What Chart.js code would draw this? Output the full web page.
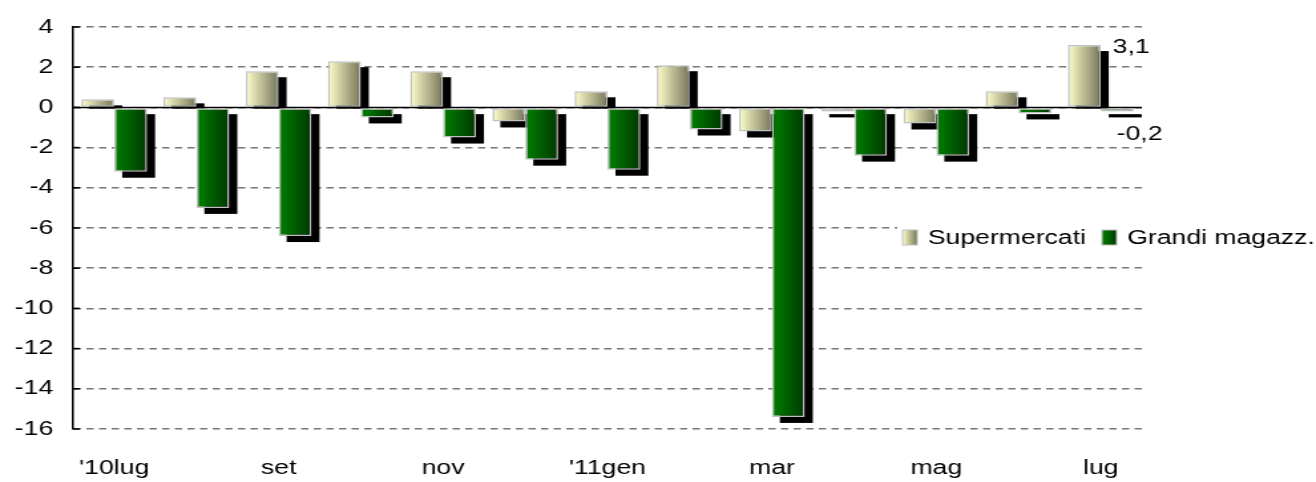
<!DOCTYPE html>
<html>
<head>
<meta charset="utf-8">
<script src="https://cdn.jsdelivr.net/npm/chart.js"></script>
<style>
    html, body { margin: 0; padding: 0; background: #fff; }
    #chart { display: block; }
</style>
</head>
<body>
<!-- canvas is drawn narrower and stretched, like the original picture -->
<canvas id="chart" width="990" height="482" style="width:1316px;height:482px"></canvas>
<script>
// Chart data
var months = ["'10lug", 'ago', 'set', 'ott', 'nov', 'dic', "'11gen", 'feb', 'mar', 'apr', 'mag', 'giu', 'lug'];
var supermercati = [0.4, 0.5, 1.8, 2.3, 1.8, -0.7, 0.8, 2.1, -1.2, -0.2, -0.8, 0.8, 3.1];
var grandiMagazz = [-3.2, -5.0, -6.4, -0.5, -1.5, -2.6, -3.1, -1.1, -15.4, -2.4, -2.4, -0.3, -0.2];
var seriesNames = ['Supermercati', 'Grandi magazz.'];
var yRange = [-16, 4];
var yStep = 2;

// Gradient colours (left -> right) for each series
var supColors = ['#ffffcc', '#76765a'];
var grandiColors = ['#008000', '#003800'];

Chart.defaults.font.family = '"Liberation Sans", Arial, sans-serif';
Chart.defaults.font.size = 20;
Chart.defaults.color = '#000';

function fmt(v) {
    return String(v).replace('.', ',');
}

// Shadows, gradients, zero line and inner ticks
var barStyle = {
    id: 'barStyle',
    beforeDatasetsDraw: function(chart) {
        var ctx = chart.ctx;
        var area = chart.chartArea;
        var yScale = chart.scales.y;
        var grads = [supColors, grandiColors];

        ctx.save();
        ctx.fillStyle = '#000';
        chart.data.datasets.forEach(function(ds, i) {
            var meta = chart.getDatasetMeta(i);
            meta.data.forEach(function(bar, j) {
                var left = bar.x - bar.width / 2;
                var right = bar.x + bar.width / 2;
                var top = Math.min(bar.y, bar.base);
                var bottom = Math.max(bar.y, bar.base);
                if (ds.data[j] >= 0) {
                    ctx.fillRect(left + 6, top + 6, bar.width, bottom - top - 4);
                } else {
                    ctx.fillRect(left + 6, top + 6, bar.width, bottom - top);
                }
                var g = ctx.createLinearGradient(left, 0, right, 0);
                g.addColorStop(0, grads[i][0]);
                g.addColorStop(1, grads[i][1]);
                bar.options = Object.assign({}, bar.options, { backgroundColor: g });
            });
        });

        // solid zero line
        var y0 = yScale.getPixelForValue(0);
        ctx.strokeStyle = '#000';
        ctx.lineWidth = 1.5;
        ctx.beginPath();
        ctx.moveTo(area.left, y0);
        ctx.lineTo(area.right, y0);
        ctx.stroke();

        // short inner tick marks on the value axis
        yScale.ticks.forEach(function(t) {
            var y = yScale.getPixelForValue(t.value);
            ctx.beginPath();
            ctx.moveTo(area.left, y);
            ctx.lineTo(area.left + 5, y);
            ctx.stroke();
        });
        ctx.restore();
    },
    afterDatasetsDraw: function(chart) {
        var ctx = chart.ctx;
        ctx.save();
        ctx.font = '20px "Liberation Sans", Arial, sans-serif';
        ctx.fillStyle = '#000';
        ctx.textAlign = 'left';
        ctx.textBaseline = 'middle';
        var last = months.length - 1;
        var sBar = chart.getDatasetMeta(0).data[last];
        var gBar = chart.getDatasetMeta(1).data[last];
        ctx.fillText(fmt(supermercati[last]), sBar.x + sBar.width / 2 + 9, sBar.y + 2);
        ctx.fillText(fmt(grandiMagazz[last]), gBar.x - gBar.width / 2 + 12, gBar.y + 23);
        ctx.restore();
    },
    afterDraw: function(chart) {
        // legend sits over the right end of the plot
        var ctx = chart.ctx;
        var items = [
            { name: seriesNames[0], colors: supColors, x: 679 },
            { name: seriesNames[1], colors: grandiColors, x: 829 }
        ];
        var cy = 238;
        ctx.save();
        ctx.fillStyle = '#fff';
        ctx.fillRect(675, cy - 15, chart.width - 675, 31);
        ctx.font = '20px "Liberation Sans", Arial, sans-serif';
        ctx.textAlign = 'left';
        ctx.textBaseline = 'middle';
        items.forEach(function(it) {
            var g = ctx.createLinearGradient(it.x, 0, it.x + 11, 0);
            g.addColorStop(0, it.colors[0]);
            g.addColorStop(1, it.colors[1]);
            ctx.fillStyle = g;
            ctx.fillRect(it.x, cy - 8, 11, 15);
            ctx.strokeStyle = '#bfbfbf';
            ctx.lineWidth = 1;
            ctx.strokeRect(it.x, cy - 8, 11, 15);
            ctx.fillStyle = '#000';
            ctx.fillText(it.name, it.x + 19, cy);
        });
        ctx.restore();
    }
};

var ctx = document.getElementById('chart').getContext('2d');
var chart = new Chart(ctx, {
    type: 'bar',
    data: {
        labels: months,
        datasets: [{
            label: seriesNames[0],
            data: supermercati,
            backgroundColor: supColors[0],
            borderColor: '#bfbfbf',
            borderWidth: 1.5,
            borderSkipped: false,
            categoryPercentage: 0.8,
            barPercentage: 1.0
        }, {
            label: seriesNames[1],
            data: grandiMagazz,
            backgroundColor: grandiColors[0],
            borderColor: '#bfbfbf',
            borderWidth: 1.5,
            borderSkipped: false,
            categoryPercentage: 0.8,
            barPercentage: 1.0
        }]
    },
    options: {
        responsive: false,
        animation: false,
        devicePixelRatio: 1,
        layout: {
            padding: { top: 26, right: 131, bottom: 2, left: 0 }
        },
        plugins: {
            legend: { display: false },
            tooltip: { enabled: false }
        },
        scales: {
            x: {
                grid: { display: false, drawTicks: false },
                border: { display: false },
                ticks: {
                    autoSkip: false,
                    maxRotation: 0,
                    padding: 27,
                    callback: function(value, index) {
                        return index % 2 === 0 ? months[index] : '';
                    }
                },
                afterFit: function(scale) { scale.height = 51; }
            },
            y: {
                min: yRange[0],
                max: yRange[1],
                grid: {
                    color: '#777',
                    lineWidth: 1.5,
                    drawTicks: false
                },
                border: {
                    display: true,
                    color: '#000',
                    width: 1.5,
                    dash: [5.5, 4]
                },
                ticks: {
                    stepSize: yStep,
                    padding: 15
                },
                afterFit: function(scale) { scale.width = 55; }
            }
        }
    },
    plugins: [barStyle]
});
</script>
</body>
</html>
